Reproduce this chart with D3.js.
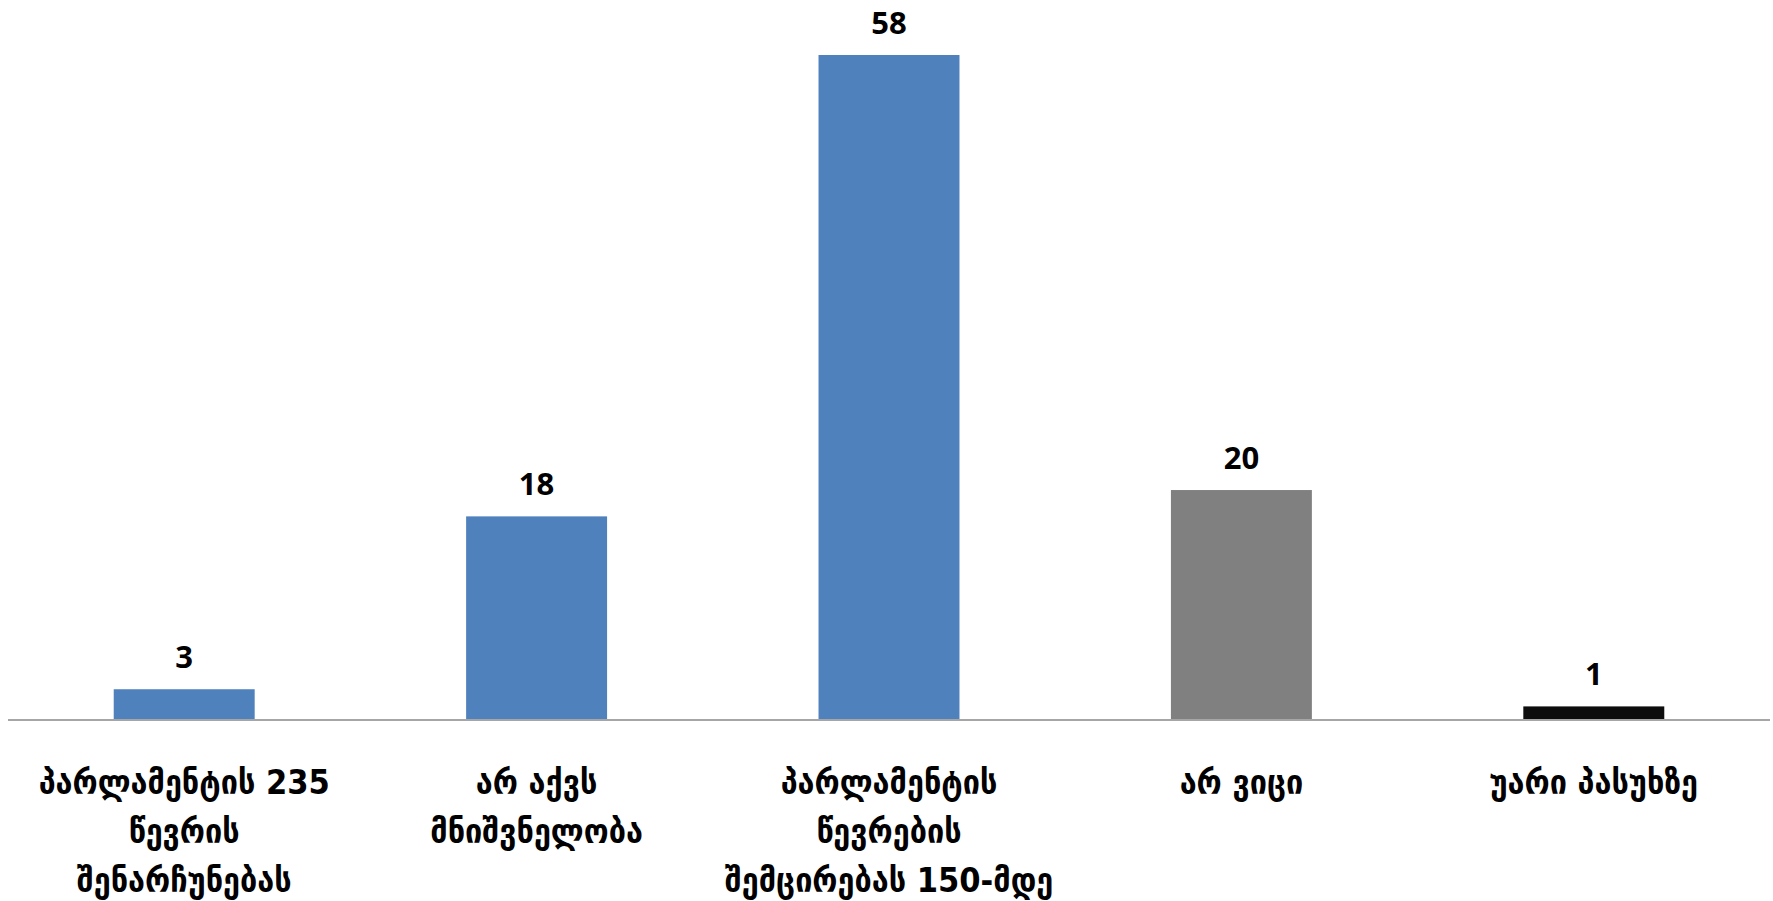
<!DOCTYPE html>
<html><head><meta charset="utf-8">
<script src="https://cdn.jsdelivr.net/npm/d3@7"></script>
<style>body{margin:0;background:#fff;}svg{display:block;}</style>
</head><body>
<svg id="chart" width="1773" height="901"></svg>
<script>
const categories = [
  ["პარლამენტის 235", "წევრის", "შენარჩუნებას"],
  ["არ აქვს", "მნიშვნელობა"],
  ["პარლამენტის", "წევრების", "შემცირებას 150-მდე"],
  ["არ ვიცი"],
  ["უარი პასუხზე"]
];
const values = [2.6, 17.7, 58, 20, 1.1];
const colors = ["#4F81BD", "#4F81BD", "#4F81BD", "#808080", "#0D0D0D"];

(function(){
const svg = d3.select("#chart");
const left = 8, right = 1770, base = 719, plotTop = 55;
const x = d3.scaleBand().domain(d3.range(values.length)).range([left, right]).paddingInner(0.6).paddingOuter(0.3);
const y = d3.scaleLinear().domain([0, 58]).range([base, plotTop]);
const fmt = d3.format(".0f");

svg.selectAll("rect.bar").data(values).enter().append("rect")
  .attr("class","bar")
  .attr("x",(d,i)=>x(i)).attr("width",x.bandwidth())
  .attr("y",d=>y(d)).attr("height",d=>base-y(d))
  .attr("fill",(d,i)=>colors[i]);

svg.append("line").attr("x1",left).attr("x2",right).attr("y1",base+1).attr("y2",base+1)
  .attr("stroke","#A6A6A6").attr("stroke-width",2);

svg.selectAll("text.val").data(values).enter().append("text")
  .attr("class","val")
  .attr("x",(d,i)=>x(i)+x.bandwidth()/2).attr("y",d=>y(d)-21)
  .attr("text-anchor","middle")
  .style("font-family","'Open Sans', sans-serif").style("font-weight","bold").style("font-size","31px")
  .attr("fill","#000").text(d=>fmt(d));

const g = svg.selectAll("text.cat").data(categories).enter().append("text")
  .attr("class","cat")
  .attr("text-anchor","middle")
  .style("font-family","'DejaVu Sans Condensed', 'DejaVu Sans', sans-serif").style("font-weight","bold").style("font-size","34px")
  .attr("fill","#000");
g.each(function(lines,i){
  const t = d3.select(this);
  lines.forEach((l,j)=>{
    t.append("tspan").attr("x",x(i)+x.bandwidth()/2).attr("y",794+j*49).text(l);
  });
});
})();
</script>
</body></html>
